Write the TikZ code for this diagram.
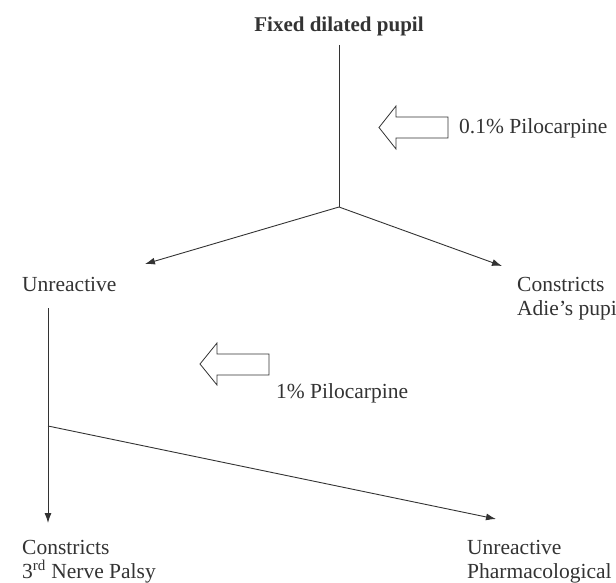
\documentclass[tikz,border=0pt]{standalone}
\usepackage{fontspec}
\setmainfont{Liberation Serif}
\usetikzlibrary{arrows.meta}
\definecolor{ink}{HTML}{333333}
\tikzset{
  lbl/.style={inner sep=0pt, anchor=base west, align=left, text=ink,
    font=\fontsize{21.5}{24}\selectfont},
  conn/.style={draw=ink, line width=0.9pt},
  arr/.style={conn, -{Latex[length=10pt,width=7pt]}},
  hollow/.style={draw=ink, line width=0.8pt, fill=white}
}
\begin{document}
\begin{tikzpicture}[x=1pt,y=-1pt]
\useasboundingbox (0,0) rectangle (616,583);
% texts
\node[lbl, anchor=base, font=\fontsize{21}{24}\selectfont\bfseries] (title) at (339,32) {Fixed dilated pupil};
\node[lbl] (p01) at (459,134) {0.1\% Pilocarpine};
\node[lbl] (u1) at (22,291) {Unreactive};
\node[lbl] (c1) at (517,315) {Constricts\\Adie's pupil};
\node[lbl] (p1) at (276,398) {1\% Pilocarpine};
\node[lbl] (c2) at (22,578) {Constricts\\3\textsuperscript{rd} Nerve Palsy};
\node[lbl] (u2) at (467,578) {Unreactive\\Pharmacological};
% junctions and ends
\coordinate (t0) at (339,45);
\coordinate (j1) at (339,207);
\coordinate (e1) at (145,264);
\coordinate (e2) at (502,266);
\coordinate (v0) at (48,308);
\coordinate (j2) at (48,426);
\coordinate (e3) at (48,523);
\coordinate (e4) at (496,519);
% connectors
\draw[conn] (t0) -- (j1);
\draw[arr] (j1) -- (e1);
\draw[arr] (j1) -- (e2);
\draw[conn] (v0) -- (j2);
\draw[arr] (j2) -- (e3);
\draw[arr] (j2) -- (e4);
% hollow arrows
\draw[hollow] (379,127.5) -- (396,106) -- (396,117) -- (448,117) -- (448,138) -- (396,138) -- (396,149) -- cycle;
\draw[hollow] (200,364) -- (217,343) -- (217,354) -- (269,354) -- (269,375) -- (217,375) -- (217,385) -- cycle;
\end{tikzpicture}
\end{document}
